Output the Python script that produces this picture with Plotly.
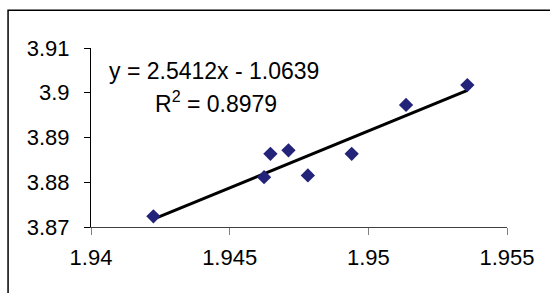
import plotly.graph_objects as go

# Data
x_vals = [1.94225, 1.94624, 1.94647, 1.94712, 1.94782, 1.94940, 1.95136, 1.95357]
y_vals = [3.87238, 3.88113, 3.88636, 3.88713, 3.88152, 3.88636, 3.89729, 3.90172]

# Trendline coefficients (from the chart's equation label)
slope = 2.5412
intercept = -1.0639
r_squared = 0.8979

x_ticks = [1.94, 1.945, 1.95, 1.955]
x_tick_labels = ["1.94", "1.945", "1.95", "1.955"]
y_ticks = [3.87, 3.88, 3.89, 3.90, 3.91]
y_tick_labels = ["3.87", "3.88", "3.89", "3.9", "3.91"]

FONT = "Liberation Sans, Arial, sans-serif"

fig = go.Figure()

trend_x = [min(x_vals), max(x_vals)]
trend_y = [slope * v + intercept for v in trend_x]

fig.add_trace(go.Scatter(
    x=trend_x, y=trend_y, mode="lines",
    line=dict(color="black", width=3),
    hoverinfo="skip", showlegend=False,
))

fig.add_trace(go.Scatter(
    x=x_vals, y=y_vals, mode="markers",
    marker=dict(symbol="diamond", size=11, color="#23237A",
                line=dict(width=0)),
    showlegend=False,
))

fig.add_annotation(
    xref="paper", yref="paper", x=(107 - 90.5) / 416.8, y=(226.6 - 71) / 178.3,
    xanchor="left", yanchor="middle", showarrow=False,
    text=f"y = {slope}x - {abs(intercept)}",
    font=dict(family=FONT, size=23, color="black"),
)
fig.add_annotation(
    xref="paper", yref="paper", x=(152.5 - 90.5) / 416.8, y=(226.6 - 102) / 178.3,
    xanchor="left", yanchor="middle", showarrow=False,
    text=f"R<sup>2</sup> = {r_squared}",
    font=dict(family=FONT, size=23, color="black"),
)

# outer chart frame (extends past the right and bottom edges)
fig.add_shape(type="rect", xref="paper", yref="paper",
              x0=(7.4 - 90.5) / 416.8, x1=(560 - 90.5) / 416.8,
              y0=(226.6 - 300) / 178.3, y1=(226.6 - 10.7) / 178.3,
              line=dict(color="black", width=1.5), layer="below")

fig.update_layout(
    width=550, height=293,
    margin=dict(l=90.5, r=42.7, t=48.3, b=66.4, autoexpand=False),
    paper_bgcolor="white", plot_bgcolor="rgba(0,0,0,0)",
    font=dict(family=FONT, size=22, color="black"),
    showlegend=False,
)

fig.update_xaxes(
    range=[1.94, 1.955], tickvals=x_ticks, ticktext=x_tick_labels,
    showline=True, linecolor="#404040", linewidth=1,
    ticks="outside", ticklen=7, tickcolor="#808080", tickwidth=1,
    showgrid=False, zeroline=False, automargin=False,
    tickfont=dict(family=FONT, size=22, color="black"),
    ticklabelstandoff=4,
)
fig.update_yaxes(
    range=[3.87, 3.91], tickvals=y_ticks, ticktext=y_tick_labels,
    showline=True, linecolor="black", linewidth=1,
    ticks="outside", ticklen=6, tickcolor="black", tickwidth=1,
    showgrid=False, zeroline=False, automargin=False,
    tickfont=dict(family=FONT, size=22, color="black"),
    ticklabelstandoff=10,
)

fig.write_html(
    "out.html",
    config={"displayModeBar": False},
    post_script="document.body.style.margin='0px';document.body.style.overflow='hidden';",
)
